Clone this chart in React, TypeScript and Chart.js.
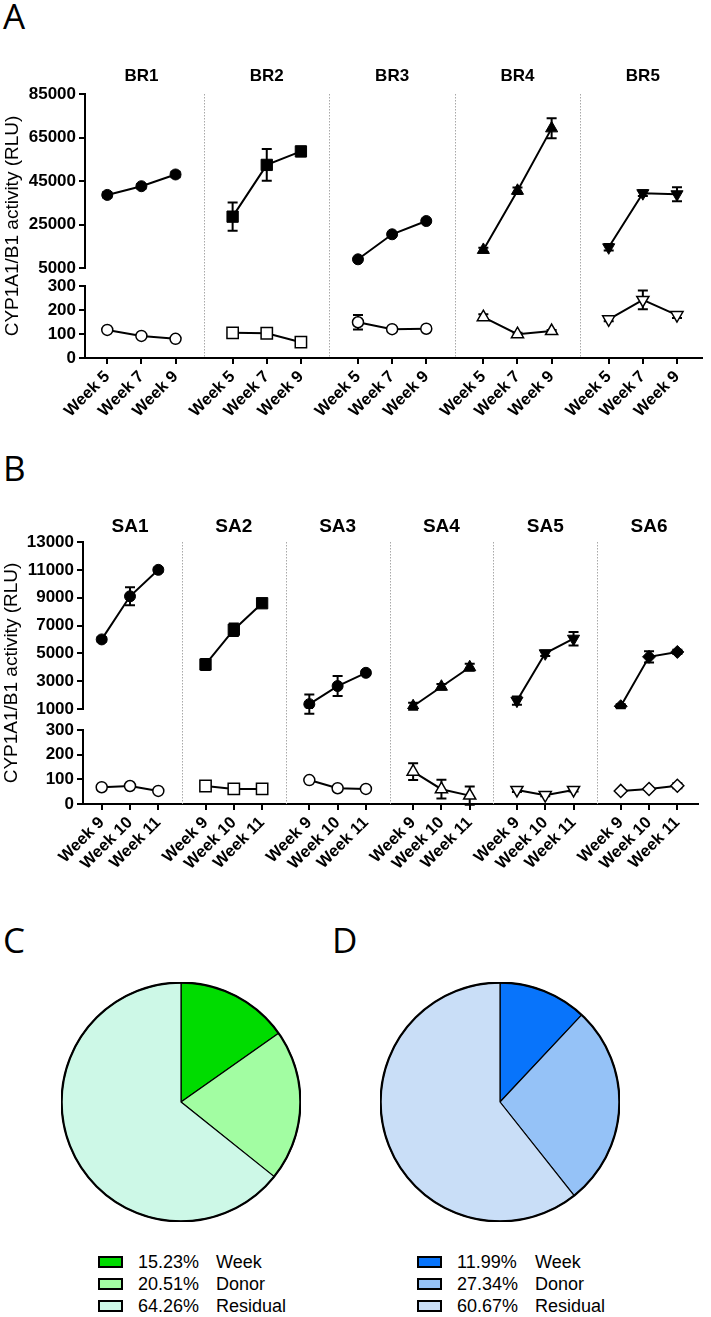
import React, { useEffect, useRef } from 'react';
import { Chart, registerables } from 'chart.js';

Chart.register(...registerables);

const FONT = "'Liberation Sans', Arial, Helvetica, sans-serif";
const LETTER_FONT = "'Open Sans', 'Liberation Sans', sans-serif";

// ---------- Panel A data ----------
const brDonors = ['BR1', 'BR2', 'BR3', 'BR4', 'BR5'];
const brWeeks = ['Week 5', 'Week 7', 'Week 9'];
const brMarkers = ['circle', 'rect', 'circle', 'triangle', 'triangleDown'];
const brTreated = [
  [38600, 42600, 48000],
  [28600, 52400, 58600],
  [9000, 20500, 26600],
  [13300, 40500, 69200],
  [14500, 39400, 38900],
];
const brTreatedErr = [
  [1200, 1000, 1300],
  [6500, 7300, 2200],
  [600, 700, 600],
  [1000, 1500, 4600],
  [1500, 1300, 3200],
];
const brControl = [
  [117, 92, 80],
  [105, 103, 66],
  [149, 120, 122],
  [170, 99, 112],
  [161, 242, 179],
];
const brControlErr = [
  [4, 4, 4],
  [4, 4, 4],
  [30, 4, 4],
  [12, 6, 5],
  [8, 39, 12],
];
const brTopTicks = [5000, 25000, 45000, 65000, 85000];
const brBottomTicks = [0, 100, 200, 300];

// ---------- Panel B data ----------
const saDonors = ['SA1', 'SA2', 'SA3', 'SA4', 'SA5', 'SA6'];
const saWeeks = ['Week 9', 'Week 10', 'Week 11'];
const saMarkers = ['circle', 'rect', 'circle', 'triangle', 'triangleDown', 'rectRot'];
const saTreated = [
  [6000, 9100, 11000],
  [4200, 6700, 8600],
  [1350, 2650, 3600],
  [1200, 2600, 4000],
  [1600, 5000, 6050],
  [1200, 4750, 5100],
];
const saTreatedErr = [
  [150, 640, 150],
  [400, 450, 150],
  [700, 720, 150],
  [250, 200, 250],
  [300, 200, 480],
  [150, 400, 150],
];
const saControl = [
  [68, 73, 53],
  [73, 61, 61],
  [97, 64, 61],
  [131, 60, 34],
  [57, 36, 57],
  [53, 61, 74],
];
const saControlErr = [
  [3, 3, 3],
  [3, 3, 3],
  [3, 3, 3],
  [34, 38, 37],
  [8, 5, 6],
  [5, 4, 10],
];
const saTopTicks = [1000, 3000, 5000, 7000, 9000, 11000, 13000];
const saBottomTicks = [0, 100, 200, 300];

// ---------- Pie data ----------
const pieLabels = ['Week', 'Donor', 'Residual'];
const pieCValues = [15.23, 20.51, 64.26];
const pieDValues = [11.99, 27.34, 60.67];
const pieCColors = ['#00DC00', '#A2FDA2', '#CDF8E7'];
const pieDColors = ['#0874FB', '#95C2F7', '#C9DEF7'];

const yTitle = 'CYP1A1/B1 activity (RLU)';

function radiusFor(style: string) {
  if (style === 'rect') return 8;
  if (style === 'rectRot') return 6.5;
  if (style === 'triangle' || style === 'triangleDown') return 7;
  return 5.5;
}

type PanelProps = {
  donors: string[];
  weeks: string[];
  markers: string[];
  treated: number[][];
  treatedErr: number[][];
  control: number[][];
  controlErr: number[][];
  topTicks: number[];
  bottomTicks: number[];
  top: number;
  height: number;
  padTop: number;
  padRight: number;
  xAxisH: number;
  yAxisW: number;
  wTop: number;
  wGap: number;
  wBot: number;
  gap: number;
  xMin: number;
  xMax: number;
  titleY: number;
  titleSize: number;
  yTitleX: number;
};

function FacetPanel(p: PanelProps) {
  const ref = useRef<HTMLCanvasElement>(null);
  useEffect(() => {
    const datasets: any[] = [];
    const xTicks: number[] = [];
    p.donors.forEach((_d, k) => {
      const xs = p.weeks.map((_w, i) => k * p.gap + i);
      xTicks.push(...xs);
      const style = p.markers[k];
      const ptStyle = style === 'triangleDown' ? 'triangle' : style;
      const rot = style === 'triangleDown' ? 180 : 0;
      const r = radiusFor(style);
      datasets.push({
        yAxisID: 'yTop',
        data: xs.map((x, i) => ({ x, y: p.treated[k][i] })),
        errors: p.treatedErr[k],
        borderColor: '#000',
        borderWidth: 2,
        pointStyle: ptStyle,
        pointRotation: rot,
        pointRadius: r,
        pointBorderWidth: 1,
        pointBackgroundColor: '#000',
        pointBorderColor: '#000',
      });
      datasets.push({
        yAxisID: 'yBot',
        data: xs.map((x, i) => ({ x, y: p.control[k][i] })),
        errors: p.controlErr[k],
        borderColor: '#000',
        borderWidth: 2,
        pointStyle: ptStyle,
        pointRotation: rot,
        pointRadius: r,
        pointBorderWidth: 1.5,
        pointBackgroundColor: '#fff',
        pointBorderColor: '#000',
      });
    });

    const decor = {
      id: 'decor',
      beforeDatasetsDraw(chart: any) {
        const { ctx, chartArea, scales } = chart;
        const xs = scales.x;
        ctx.save();
        ctx.strokeStyle = '#a8a8a8';
        ctx.lineWidth = 1;
        ctx.setLineDash([1.5, 1.5]);
        for (let k = 0; k < p.donors.length - 1; k++) {
          const px = Math.round(xs.getPixelForValue(k * p.gap + 1 + p.gap / 2)) + 0.5;
          ctx.beginPath();
          ctx.moveTo(px, chartArea.top);
          ctx.lineTo(px, chartArea.bottom);
          ctx.stroke();
        }
        ctx.setLineDash([]);
        ctx.strokeStyle = '#000';
        ctx.lineWidth = 2;
        chart.data.datasets.forEach((ds: any, di: number) => {
          const meta = chart.getDatasetMeta(di);
          const ys = scales[ds.yAxisID];
          ds.errors.forEach((e: number, i: number) => {
            const pt = meta.data[i];
            const v = ds.data[i].y;
            const y1 = ys.getPixelForValue(v + e);
            const y2 = ys.getPixelForValue(v - e);
            ctx.beginPath();
            ctx.moveTo(pt.x, y1);
            ctx.lineTo(pt.x, y2);
            ctx.moveTo(pt.x - 5, y1);
            ctx.lineTo(pt.x + 5, y1);
            ctx.moveTo(pt.x - 5, y2);
            ctx.lineTo(pt.x + 5, y2);
            ctx.stroke();
          });
        });
        ctx.restore();
      },
      afterDraw(chart: any) {
        const { ctx, chartArea, scales } = chart;
        const xs = scales.x;
        ctx.save();
        ctx.fillStyle = '#000';
        ctx.font = `bold ${p.titleSize}px ${FONT}`;
        ctx.textAlign = 'center';
        ctx.textBaseline = 'middle';
        p.donors.forEach((d, k) => {
          ctx.fillText(d, xs.getPixelForValue(k * p.gap + 1), p.titleY);
        });
        ctx.translate(p.yTitleX, (chartArea.top + chartArea.bottom) / 2);
        ctx.rotate(-Math.PI / 2);
        ctx.font = `19px ${FONT}`;
        ctx.fillText(yTitle, 0, 0);
        ctx.restore();
      },
    };

    const tickFont = { family: FONT, size: 17, weight: 'bold' as const };
    const gridCfg = { drawOnChartArea: false, drawTicks: true, tickLength: 6, color: '#000', lineWidth: 2 };
    const borderCfg = { color: '#000', width: 2 };

    const chart = new Chart(ref.current as HTMLCanvasElement, {
      type: 'line',
      data: { datasets },
      options: {
        animation: false,
        responsive: false,
        maintainAspectRatio: false,
        devicePixelRatio: 1,
        layout: { padding: { top: p.padTop, right: p.padRight, left: 0, bottom: 0 } },
        plugins: { legend: { display: false }, tooltip: { enabled: false } },
        scales: {
          x: {
            type: 'linear',
            min: p.xMin,
            max: p.xMax,
            afterBuildTicks: (s: any) => {
              s.ticks = xTicks.map((v) => ({ value: v }));
            },
            afterFit: (s: any) => {
              s.height = p.xAxisH;
            },
            ticks: {
              autoSkip: false,
              minRotation: 45,
              maxRotation: 45,
              color: '#000',
              padding: 3,
              font: { family: FONT, size: 16.5, weight: 'bold' },
              callback: (_v: any, i: number) => p.weeks[i % p.weeks.length],
            },
            grid: gridCfg,
            border: borderCfg,
          },
          yBot: {
            type: 'linear',
            position: 'left',
            stack: 'y',
            stackWeight: p.wBot,
            min: p.bottomTicks[0],
            max: p.bottomTicks[p.bottomTicks.length - 1],
            afterBuildTicks: (s: any) => {
              s.ticks = p.bottomTicks.map((v) => ({ value: v }));
            },
            afterFit: (s: any) => {
              s.width = p.yAxisW;
            },
            ticks: { autoSkip: false, color: '#000', font: tickFont, padding: 3, callback: (v: any) => String(v) },
            grid: gridCfg,
            border: borderCfg,
          },
          yGap: {
            type: 'linear',
            position: 'left',
            stack: 'y',
            stackWeight: p.wGap,
            display: false,
          },
          yTop: {
            type: 'linear',
            position: 'left',
            stack: 'y',
            stackWeight: p.wTop,
            min: p.topTicks[0],
            max: p.topTicks[p.topTicks.length - 1],
            afterBuildTicks: (s: any) => {
              s.ticks = p.topTicks.map((v) => ({ value: v }));
            },
            afterFit: (s: any) => {
              s.width = p.yAxisW;
            },
            ticks: { autoSkip: false, color: '#000', font: tickFont, padding: 3, callback: (v: any) => String(v) },
            grid: gridCfg,
            border: borderCfg,
          },
        } as any,
      },
      plugins: [decor],
    } as any);
    return () => chart.destroy();
  }, []);
  return (
    <canvas
      ref={ref}
      width={711}
      height={p.height}
      style={{ position: 'absolute', left: 0, top: p.top, width: 711, height: p.height }}
    />
  );
}

type PieProps = {
  values: number[];
  colors: string[];
  left: number;
  top: number;
  size: number;
  legendLeft: number;
  legendTop: number;
};

function PiePanel(p: PieProps) {
  const ref = useRef<HTMLCanvasElement>(null);
  useEffect(() => {
    const outline = {
      id: 'outline',
      afterDatasetsDraw(chart: any) {
        const arc = chart.getDatasetMeta(0).data[0];
        if (!arc) return;
        const { ctx } = chart;
        ctx.save();
        ctx.strokeStyle = '#000';
        ctx.lineWidth = 2.2;
        ctx.beginPath();
        ctx.arc(arc.x, arc.y, arc.outerRadius, 0, Math.PI * 2);
        ctx.stroke();
        ctx.restore();
      },
    };
    const chart = new Chart(ref.current as HTMLCanvasElement, {
      type: 'pie',
      data: {
        labels: pieLabels,
        datasets: [
          {
            data: p.values,
            backgroundColor: p.colors,
            borderColor: '#000',
            borderWidth: 1.2,
          },
        ],
      },
      options: {
        animation: false,
        responsive: false,
        maintainAspectRatio: false,
        devicePixelRatio: 1,
        plugins: { legend: { display: false }, tooltip: { enabled: false } },
      },
      plugins: [outline],
    } as any);
    return () => chart.destroy();
  }, []);
  return (
    <>
      <canvas
        ref={ref}
        width={p.size}
        height={p.size}
        style={{ position: 'absolute', left: p.left, top: p.top, width: p.size, height: p.size }}
      />
      {pieLabels.map((lab, i) => (
        <div
          key={lab}
          style={{
            position: 'absolute',
            left: p.legendLeft,
            top: p.legendTop + i * 22 - 11,
            height: 22,
            width: 260,
            fontFamily: FONT,
            fontSize: 18,
            lineHeight: '22px',
            color: '#000',
            whiteSpace: 'nowrap',
          }}
        >
          <span
            style={{
              position: 'absolute',
              left: 0,
              top: 5,
              width: 25,
              height: 12,
              boxSizing: 'border-box',
              border: '2px solid #000',
              background: p.colors[i],
            }}
          />
          <span style={{ position: 'absolute', left: 40 }}>{p.values[i].toFixed(2)}%</span>
          <span style={{ position: 'absolute', left: 118 }}>{lab}</span>
        </div>
      ))}
    </>
  );
}

const letterStyle = (left: number, top: number): React.CSSProperties => ({
  position: 'absolute',
  left,
  top,
  fontFamily: LETTER_FONT,
  fontSize: 35,
  lineHeight: '40px',
  color: '#000',
});

export default function App() {
  return (
    <div style={{ position: 'absolute', left: 0, top: 0, width: 711, height: 1317, background: '#fff', overflow: 'hidden' }}>
      <div style={letterStyle(3, -4)}>A</div>
      <div style={letterStyle(3, 448)}>B</div>
      <div style={letterStyle(3, 920)}>C</div>
      <div style={letterStyle(332, 920)}>D</div>
      <FacetPanel
        donors={brDonors}
        weeks={brWeeks}
        markers={brMarkers}
        treated={brTreated}
        treatedErr={brTreatedErr}
        control={brControl}
        controlErr={brControlErr}
        topTicks={brTopTicks}
        bottomTicks={brBottomTicks}
        top={40}
        height={400}
        padTop={54}
        padRight={3}
        xAxisH={82}
        yAxisW={85}
        wTop={174}
        wGap={18}
        wBot={72}
        gap={3.672}
        xMin={-0.652}
        xMax={17.406}
        titleY={36}
        titleSize={17}
        yTitleX={13}
      />
      <FacetPanel
        donors={saDonors}
        weeks={saWeeks}
        markers={saMarkers}
        treated={saTreated}
        treatedErr={saTreatedErr}
        control={saControl}
        controlErr={saControlErr}
        topTicks={saTopTicks}
        bottomTicks={saBottomTicks}
        top={480}
        height={400}
        padTop={62}
        padRight={13}
        xAxisH={76}
        yAxisW={83}
        wTop={167}
        wGap={21}
        wBot={74}
        gap={3.668}
        xMin={-0.661}
        xMax={21.07}
        titleY={47}
        titleSize={19}
        yTitleX={12}
      />
      <PiePanel values={pieCValues} colors={pieCColors} left={61} top={982} size={240} legendLeft={98} legendTop={1262} />
      <PiePanel values={pieDValues} colors={pieDColors} left={380} top={982} size={240} legendLeft={417} legendTop={1262} />
    </div>
  );
}
